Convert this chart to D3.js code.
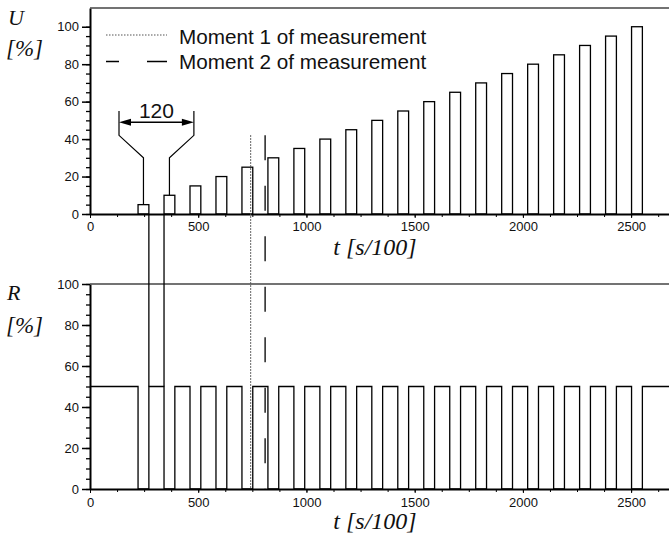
<!DOCTYPE html>
<html>
<head>
<meta charset="utf-8">
<script src="https://cdn.jsdelivr.net/npm/d3@7"></script>
<style>
  body { margin: 0; background: #fff; }
  svg text { font-family: "Liberation Sans", Arial, sans-serif; fill: #111; }
  .lab { font-family: "Liberation Serif", "Times New Roman", serif; font-style: italic; }
</style>
</head>
<body>
<div id="chart"></div>
<script>
// data
const tMax = 2675;
const pulseStart = [222, 342, 462, 582, 702, 822, 942, 1062, 1182, 1302,
                    1422, 1542, 1662, 1782, 1902, 2022, 2142, 2262, 2382, 2502];
const pulseWidth = 50;
const uValues = [5, 10, 15, 20, 25, 30, 35, 40, 45, 50,
                 55, 60, 65, 70, 75, 80, 85, 90, 95, 100];
const rIdle = 50;      // R between pulses
const rPulse = 0;      // R while U pulse is on
const moments = [742, 809];
const momentTop = 42;
const xTicks = [0, 500, 1000, 1500, 2000, 2500];
const yTicks = [0, 20, 40, 60, 80, 100];
const legendLabels = ["Moment 1 of measurement", "Moment 2 of measurement"];

const W = 669, H = 535;
let svg = d3.select("#chart").append("svg")
  .attr("width", W).attr("height", H);

let x = d3.scaleLinear().domain([0, tMax]).range([90, 669]);
let yU = d3.scaleLinear().domain([0, 110]).range([214, 8]);
let yR = d3.scaleLinear().domain([0, 100]).range([489, 284]);

function drawAxes(y, yTop, pad){
  let y0 = y(0);
  // minor x ticks
  svg.append("g").attr("transform", "translate(0," + y0 + ")")
    .call(d3.axisBottom(x).tickValues(d3.range(0, tMax, 125)).tickSize(3).tickFormat(""))
    .call(g => g.select(".domain").remove());
  let gx = svg.append("g").attr("transform", "translate(0," + y0 + ")")
    .call(d3.axisBottom(x).tickValues(xTicks).tickSize(4).tickPadding(pad)
      .tickSizeOuter(0).tickFormat(d3.format("d")));
  gx.select(".domain").attr("stroke-width", 2);
  gx.selectAll("text").style("font-size", "13px");
  // y axis
  svg.append("g").attr("transform", "translate(90,0)")
    .call(d3.axisLeft(y).tickValues(d3.range(0, 101, 5)).tickSize(4).tickFormat(""))
    .call(g => g.select(".domain").remove())
    .selectAll("line").attr("stroke-width", 1.3);
  let gy = svg.append("g").attr("transform", "translate(90,0)")
    .call(d3.axisLeft(y).tickValues(yTicks).tickSize(8).tickPadding(3)
      .tickSizeOuter(0).tickFormat(d3.format("d")));
  gy.select(".domain").attr("stroke-width", 2);
  gy.selectAll("line").attr("stroke-width", 1.5);
  gy.selectAll("text").style("font-size", "13px");
  // top frame line
  svg.append("line")
    .attr("x1", 90).attr("x2", W)
    .attr("y1", y(yTop)).attr("y2", y(yTop))
    .attr("stroke", "#444").attr("stroke-width", 1.5);
}

drawAxes(yU, 110, 4);
drawAxes(yR, 100, 5);

// U pulses
svg.append("g").selectAll("rect")
  .data(pulseStart)
  .join("rect")
  .attr("x", d => x(d))
  .attr("width", d => x(d + pulseWidth) - x(d))
  .attr("y", (d, i) => yU(uValues[i]))
  .attr("height", (d, i) => yU(0) - yU(uValues[i]))
  .attr("fill", "none")
  .attr("stroke", "#000")
  .attr("stroke-width", 1.3);

// R step signal
let rPts = [{t: 0, r: rIdle}];
pulseStart.forEach(s => {
  rPts.push({t: s, r: rPulse});
  rPts.push({t: s + pulseWidth, r: rIdle});
});
rPts.push({t: tMax, r: rIdle});
svg.append("path")
  .datum(rPts)
  .attr("d", d3.line().x(d => x(d.t)).y(d => yR(d.r)).curve(d3.curveStepAfter))
  .attr("fill", "none")
  .attr("stroke", "#000")
  .attr("stroke-width", 1.3);

// open-circuit spike between first two pulses
[pulseStart[0] + pulseWidth, pulseStart[1]].forEach(t => {
  svg.append("line")
    .attr("x1", x(t)).attr("x2", x(t))
    .attr("y1", yR(rIdle)).attr("y2", yU(0))
    .attr("stroke", "#000").attr("stroke-width", 1.3);
});

// moment lines
svg.append("line")
  .attr("x1", x(moments[0])).attr("x2", x(moments[0]))
  .attr("y1", yU(momentTop)).attr("y2", yR(0))
  .attr("stroke", "#555").attr("stroke-width", 1.2)
  .attr("stroke-dasharray", "1.5,1.5");
svg.append("line")
  .attr("x1", x(moments[1])).attr("x2", x(moments[1]))
  .attr("y1", yU(momentTop)).attr("y2", yR(0))
  .attr("stroke", "#000").attr("stroke-width", 1.3)
  .attr("stroke-dasharray", "25,25.5");

// legend
svg.append("line")
  .attr("x1", 106).attr("x2", 167).attr("y1", 35).attr("y2", 35)
  .attr("stroke", "#555").attr("stroke-width", 1.2)
  .attr("stroke-dasharray", "1.5,1.5");
svg.append("line")
  .attr("x1", 106).attr("x2", 167).attr("y1", 61.5).attr("y2", 61.5)
  .attr("stroke", "#000").attr("stroke-width", 1.3)
  .attr("stroke-dasharray", "13,28,22");
svg.append("text").attr("x", 179).attr("y", 44.3)
  .style("font-size", "20.7px").text(legendLabels[0]);
svg.append("text").attr("x", 179).attr("y", 68.5)
  .style("font-size", "20.7px").text(legendLabels[1]);

// "120" dimension annotation
let c1 = pulseStart[0] + pulseWidth / 2;
let c2 = pulseStart[1] + pulseWidth / 2;
let outer = [134, 480];
let dimL = [[c1, uValues[0]], [c1, 30], [outer[0], 42], [outer[0], 55]];
let dimR = [[c2, uValues[1]], [c2, 30], [outer[1], 42], [outer[1], 55]];
let dl = d3.line().x(d => x(d[0])).y(d => yU(d[1]));
[dimL, dimR].forEach(p => {
  svg.append("path").attr("d", dl(p))
    .attr("fill", "none").attr("stroke", "#000").attr("stroke-width", 1.2);
});
let ay = yU(49);
let ax1 = x(outer[0]), ax2 = x(outer[1]);
svg.append("line")
  .attr("x1", ax1 + 10).attr("x2", ax2 - 10).attr("y1", ay).attr("y2", ay)
  .attr("stroke", "#000").attr("stroke-width", 1.3);
svg.append("path")
  .attr("d", "M" + ax1 + "," + ay + "L" + (ax1 + 12) + "," + (ay - 3.5) + "L" + (ax1 + 12) + "," + (ay + 3.5) + "Z")
  .attr("fill", "#000");
svg.append("path")
  .attr("d", "M" + ax2 + "," + ay + "L" + (ax2 - 12) + "," + (ay - 3.5) + "L" + (ax2 - 12) + "," + (ay + 3.5) + "Z")
  .attr("fill", "#000");
svg.append("text")
  .attr("x", (ax1 + ax2) / 2).attr("y", yU(51.4))
  .attr("text-anchor", "middle")
  .style("font-size", "21px")
  .text(pulseStart[1] - pulseStart[0]);

// axis titles
svg.append("text").attr("class", "lab").attr("x", 8).attr("y", 25)
  .style("font-size", "22px").text("U");
svg.append("text").attr("class", "lab").attr("x", 6).attr("y", 56)
  .style("font-size", "23px").text("[%]");
svg.append("text").attr("class", "lab").attr("x", 7).attr("y", 300)
  .style("font-size", "22px").text("R");
svg.append("text").attr("class", "lab").attr("x", 6).attr("y", 333)
  .style("font-size", "23px").text("[%]");
svg.append("text").attr("class", "lab").attr("x", 375).attr("y", 255)
  .attr("text-anchor", "middle").style("font-size", "24px").text("t [s/100]");
svg.append("text").attr("class", "lab").attr("x", 375).attr("y", 529)
  .attr("text-anchor", "middle").style("font-size", "24px").text("t [s/100]");
</script>
</body>
</html>
